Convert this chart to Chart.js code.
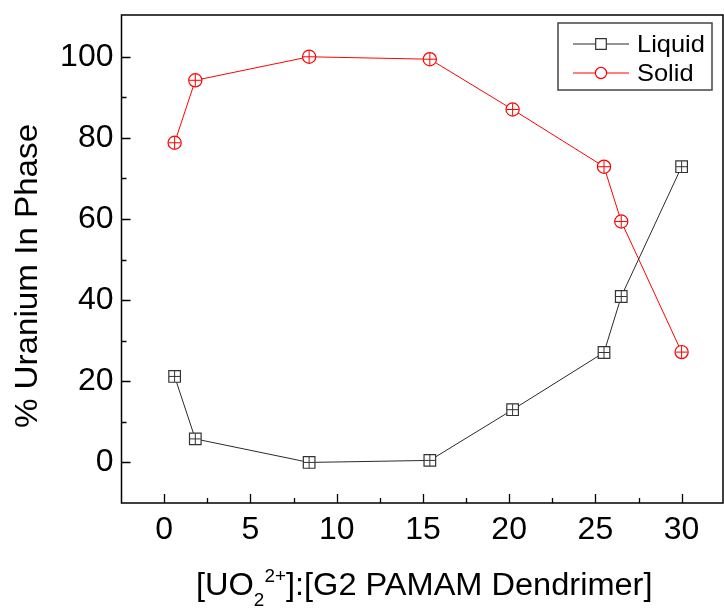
<!DOCTYPE html>
<html><head><meta charset="utf-8">
<script src="https://cdn.jsdelivr.net/npm/chart.js@4/dist/chart.umd.min.js"></script>
<style>html,body{margin:0;padding:0;background:#fff}</style>
</head><body>
<canvas id="c" width="724" height="608"></canvas>
<script>
// ---- data ----
const ratio  = [0.6, 1.8, 8.4, 15.4, 20.2, 25.5, 26.5, 30];
const liquid = [21.2, 5.8, 0.0, 0.5, 13.0, 27.1, 40.9, 72.9];
const solid  = [78.8, 94.2, 100.0, 99.4, 87.0, 72.9, 59.4, 27.2];
const xTicks = [0, 5, 10, 15, 20, 25, 30];
const xMinorTicks = [2.5, 7.5, 12.5, 17.5, 22.5, 27.5];
const yTicks = [0, 20, 40, 60, 80, 100];
const yMinorTicks = [10, 30, 50, 70, 90];
const seriesNames = ['Liquid', 'Solid'];
const yTitle = '% Uranium In Phase';

const FONT = "'Liberation Sans', Arial, sans-serif";
const DARK = '#2a2a2a';
const RED = '#ff0000';

function zeroPad(s) { s.paddingTop = 0; s.paddingBottom = 0; s.paddingLeft = 0; s.paddingRight = 0; }

const deco = {
  id: 'deco',
  afterDatasetsDraw(chart) {
    const ctx = chart.ctx;
    ctx.save();
    chart.data.datasets.forEach((ds, di) => {
      const meta = chart.getDatasetMeta(di);
      ctx.strokeStyle = ds.pointBorderColor;
      ctx.lineWidth = 1;
      const h = di === 0 ? 5.6 : 6.2;
      meta.data.forEach(pt => {
        ctx.beginPath();
        ctx.moveTo(pt.x - h, pt.y); ctx.lineTo(pt.x + h, pt.y);
        ctx.moveTo(pt.x, pt.y - h); ctx.lineTo(pt.x, pt.y + h);
        ctx.stroke();
      });
    });
    ctx.restore();
  },
  afterDraw(chart) {
    const ctx = chart.ctx;
    const a = chart.chartArea;
    const xs = chart.scales.x, ys = chart.scales.y;
    ctx.save();
    // frame
    ctx.strokeStyle = '#000';
    ctx.lineWidth = 1.5;
    ctx.strokeRect(a.left, a.top, a.right - a.left, a.bottom - a.top);
    // inward ticks
    ctx.lineWidth = 1.3;
    ctx.beginPath();
    xTicks.forEach(v => { const p = Math.round(xs.getPixelForValue(v)) + 0.5; ctx.moveTo(p, a.bottom); ctx.lineTo(p, a.bottom - 9); });
    xMinorTicks.forEach(v => { const p = Math.round(xs.getPixelForValue(v)) + 0.5; ctx.moveTo(p, a.bottom); ctx.lineTo(p, a.bottom - 5); });
    yTicks.forEach(v => { const p = Math.round(ys.getPixelForValue(v)) + 0.5; ctx.moveTo(a.left, p); ctx.lineTo(a.left + 9, p); });
    yMinorTicks.forEach(v => { const p = Math.round(ys.getPixelForValue(v)) + 0.5; ctx.moveTo(a.left, p); ctx.lineTo(a.left + 5, p); });
    ctx.stroke();

    // legend
    ctx.strokeStyle = '#444';
    ctx.lineWidth = 1.5;
    ctx.strokeRect(558, 23, 154, 67);
    const rows = [44, 73];
    chart.data.datasets.forEach((ds, i) => {
      const y = rows[i];
      ctx.strokeStyle = ds.borderColor;
      ctx.lineWidth = 1;
      ctx.beginPath(); ctx.moveTo(573, y); ctx.lineTo(629, y); ctx.stroke();
      ctx.fillStyle = '#fff';
      ctx.strokeStyle = ds.pointBorderColor;
      ctx.lineWidth = 1.2;
      ctx.beginPath();
      if (i === 0) ctx.rect(601 - 5.3, y - 5.3, 10.6, 10.6);
      else ctx.arc(601, y, 5.6, 0, Math.PI * 2);
      ctx.fill(); ctx.stroke();
      ctx.fillStyle = '#000';
      ctx.font = '24px ' + FONT;
      ctx.textBaseline = 'middle';
      ctx.textAlign = 'left';
      ctx.save();
      ctx.translate(637, y + 1);
      ctx.scale(1.06, 1);
      ctx.fillText(ds.label, 0, 0);
      ctx.restore();
    });

    // y title
    ctx.fillStyle = '#000';
    ctx.save();
    ctx.translate(37, 276);
    ctx.rotate(-Math.PI / 2);
    ctx.scale(1.07, 1);
    ctx.font = '31px ' + FONT;
    ctx.textAlign = 'center';
    ctx.textBaseline = 'alphabetic';
    ctx.fillText(yTitle, 0, 0);
    ctx.restore();

    // x title with sub/superscript
    const parts = [
      { t: '[UO', size: 31, dy: 0 },
      { t: '2', size: 18, dy: 11 },
      { t: '2+', size: 18, dy: -13 },
      { t: ']:[G2 PAMAM Dendrimer]', size: 31, dy: 0 }
    ];
    ctx.save();
    ctx.translate(196, 595);
    ctx.scale(1.05, 1);
    let x = 0;
    ctx.textAlign = 'left';
    ctx.textBaseline = 'alphabetic';
    parts.forEach(p => {
      ctx.font = p.size + 'px ' + FONT;
      ctx.fillText(p.t, x, p.dy);
      x += ctx.measureText(p.t).width;
    });
    ctx.restore();
    ctx.restore();
  }
};

new Chart(document.getElementById('c'), {
  type: 'line',
  data: {
    datasets: [
      {
        label: seriesNames[0],
        data: ratio.map((x, i) => ({ x, y: liquid[i] })),
        borderColor: DARK, borderWidth: 1,
        pointStyle: 'rect', pointRadius: 8.2, pointHoverRadius: 8.2,
        pointBorderColor: '#333', pointBackgroundColor: '#fff', pointBorderWidth: 1.2,
        tension: 0
      },
      {
        label: seriesNames[1],
        data: ratio.map((x, i) => ({ x, y: solid[i] })),
        borderColor: RED, borderWidth: 1,
        pointStyle: 'circle', pointRadius: 6.6, pointHoverRadius: 6.6,
        pointBorderColor: RED, pointBackgroundColor: '#fff', pointBorderWidth: 1.2,
        tension: 0
      }
    ]
  },
  options: {
    responsive: false,
    animation: false,
    devicePixelRatio: 1,
    layout: { autoPadding: false, padding: { top: 15, right: 1, left: 0, bottom: 0 } },
    plugins: { legend: { display: false }, tooltip: { enabled: false } },
    scales: {
      x: {
        type: 'linear', min: -2.48, max: 32.4,
        afterBuildTicks: s => { s.ticks = xTicks.map(v => ({ value: v })); },
        afterFit: s => { s.height = 105; zeroPad(s); },
        grid: { display: false, drawTicks: false },
        border: { display: false },
        ticks: { color: '#000', padding: 8, font: { family: FONT, size: 32 }, callback: v => String(v) }
      },
      y: {
        type: 'linear', min: -10, max: 110.3,
        afterBuildTicks: s => { s.ticks = yTicks.map(v => ({ value: v })); },
        afterFit: s => { s.width = 121.5; zeroPad(s); },
        grid: { display: false, drawTicks: false },
        border: { display: false },
        ticks: { color: '#000', padding: 8, font: { family: FONT, size: 32 }, callback: v => String(v) }
      }
    }
  },
  plugins: [deco]
});
</script>
</body></html>
